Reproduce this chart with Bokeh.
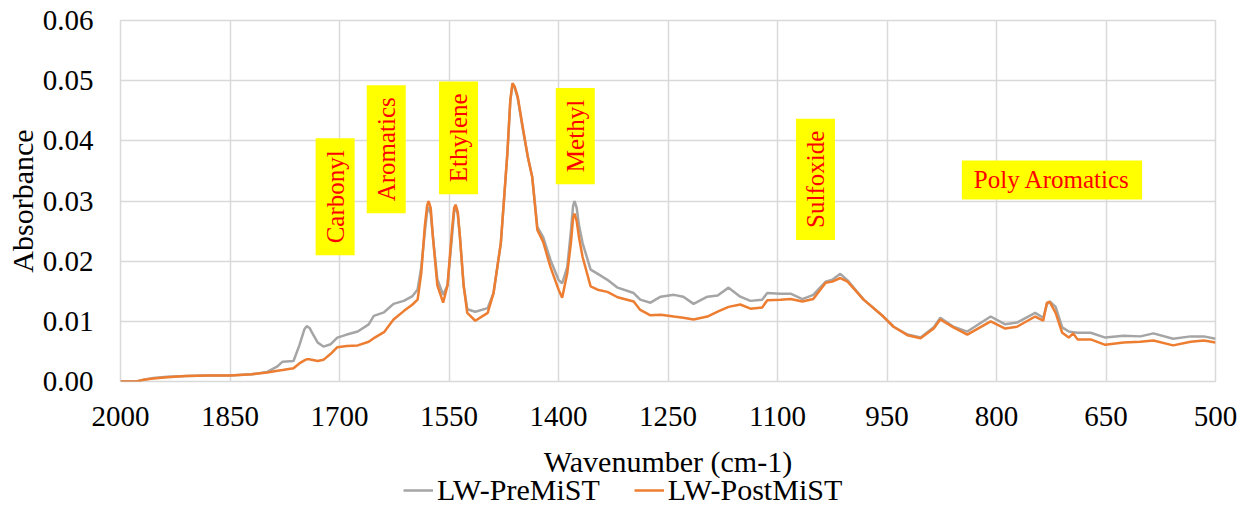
from bokeh.plotting import figure
from bokeh.layouts import column
from bokeh.models import (Range1d, FixedTicker, NumeralTickFormatter, Legend, LegendItem,
                          ColumnDataSource, Label)
from bokeh.embed import file_html
from bokeh.resources import INLINE

# ---- data ----
wavenumber = [2000, 1978, 1968, 1955, 1936, 1910, 1880, 1850, 1820, 1799, 1785, 1778, 1763, 1755,
              1748, 1745, 1741, 1738, 1730, 1722, 1712, 1703, 1690, 1675, 1660, 1653, 1639, 1626,
              1612, 1600, 1593, 1588, 1583, 1580, 1578, 1575, 1572, 1566, 1558, 1552, 1546, 1543,
              1541, 1538, 1535, 1530, 1525, 1514, 1497, 1489, 1479, 1470, 1466, 1463, 1460, 1456,
              1449, 1442, 1436, 1429, 1421, 1411, 1400, 1395, 1388, 1383, 1380, 1378, 1375, 1372,
              1367, 1356, 1345, 1333, 1319, 1297, 1288, 1274, 1260, 1242, 1229, 1215, 1196, 1182,
              1167, 1151, 1137, 1121, 1114, 1096, 1082, 1066, 1051, 1034, 1025, 1014, 1004, 982,
              955, 941, 922, 904, 886, 877, 859, 840, 808, 788, 772, 747, 736, 731, 727, 719, 710,
              701, 695, 689, 671, 651, 626, 603, 585, 558, 534, 516, 500]

pre_mist = [0.0, 0.0, 0.0003, 0.0006, 0.0008, 0.0009, 0.001, 0.001, 0.0012, 0.0016, 0.0025, 0.0033,
            0.0034, 0.006, 0.0087, 0.0092, 0.0089, 0.0082, 0.0065, 0.0058, 0.0062, 0.0073, 0.0078,
            0.0083, 0.0095, 0.0109, 0.0115, 0.0129, 0.0134, 0.0142, 0.0153, 0.019, 0.025, 0.0282,
            0.029, 0.0278, 0.024, 0.017, 0.0144, 0.016, 0.024, 0.0282, 0.029, 0.0278, 0.024, 0.016,
            0.012, 0.0116, 0.0122, 0.0147, 0.023, 0.038, 0.0466, 0.0494, 0.0488, 0.0472, 0.042,
            0.0373, 0.034, 0.0257, 0.024, 0.0202, 0.0169, 0.0163, 0.019, 0.025, 0.0292, 0.030,
            0.0288, 0.026, 0.023, 0.0186, 0.0178, 0.0169, 0.0156, 0.0147, 0.0136, 0.0131, 0.0141,
            0.0144, 0.0141, 0.0129, 0.0141, 0.0143, 0.0156, 0.0141, 0.0134, 0.0136, 0.0147,
            0.0146, 0.0146, 0.0137, 0.0144, 0.0166, 0.0169, 0.0179, 0.0168, 0.0136, 0.0108,
            0.0091, 0.0078, 0.0073, 0.009, 0.0106, 0.0091, 0.0083, 0.0108, 0.0095, 0.0098, 0.0114,
            0.0106, 0.0128, 0.0133, 0.0124, 0.009, 0.0083, 0.0082, 0.0081, 0.0081, 0.0073, 0.0076,
            0.0075, 0.008, 0.0071, 0.0075, 0.0075, 0.0071]

post_mist = [0.0, 0.0, 0.0003, 0.0005, 0.0007, 0.0009, 0.001, 0.001, 0.0012, 0.0015, 0.0018, 0.0019,
             0.0022, 0.003, 0.0035, 0.0037, 0.0037, 0.0036, 0.0034, 0.0036, 0.0046, 0.0057, 0.0059,
             0.006, 0.0066, 0.0072, 0.0082, 0.0103, 0.0117, 0.0128, 0.0136, 0.018, 0.026, 0.0292,
             0.030, 0.0288, 0.024, 0.016, 0.0131, 0.016, 0.025, 0.0288, 0.0294, 0.0282, 0.024,
             0.016, 0.0114, 0.0101, 0.0114, 0.0147, 0.023, 0.038, 0.0468, 0.0496, 0.049, 0.0474,
             0.0423, 0.0373, 0.034, 0.0252, 0.0232, 0.019, 0.0153, 0.0139, 0.018, 0.023, 0.0272,
             0.0279, 0.0266, 0.024, 0.0207, 0.0158, 0.0152, 0.0149, 0.014, 0.0133, 0.0119, 0.011,
             0.0111, 0.0108, 0.0106, 0.0103, 0.0108, 0.0116, 0.0124, 0.0128, 0.0121, 0.0123,
             0.0135, 0.0136, 0.0137, 0.0133, 0.0137, 0.0164, 0.0166, 0.0172, 0.0166, 0.0136,
             0.0108, 0.0091, 0.0077, 0.0072, 0.0088, 0.0103, 0.009, 0.0078, 0.0100, 0.0088, 0.0091,
             0.0108, 0.0101, 0.0131, 0.0132, 0.0114, 0.0081, 0.0073, 0.008, 0.007, 0.007, 0.0061,
             0.0065, 0.0066, 0.0068, 0.006, 0.0066, 0.0068, 0.0065]

x_ticks = [2000, 1850, 1700, 1550, 1400, 1250, 1100, 950, 800, 650, 500]
y_ticks = [0.0, 0.01, 0.02, 0.03, 0.04, 0.05, 0.06]

band_names = ["Carbonyl", "Aromatics", "Ethylene", "Methyl", "Sulfoxide", "Poly Aromatics"]
band_x = [1706, 1636, 1537, 1377, 1048, 724]
band_y = [0.0307, 0.0386, 0.0405, 0.0408, 0.0336, 0.0335]
band_vertical = [True, True, True, True, True, False]

series_names = ["LW-PreMiST", "LW-PostMiST"]
x_title = "Wavenumber (cm-1)"
y_title = "Absorbance"

FONT = "'Liberation Serif'"
GRAY = "#a5a5a5"
ORANGE = "#ed7d31"
GRID = "#d9d9d9"

MAIN_H = 480
p = figure(width=1251, height=MAIN_H, output_backend="svg", toolbar_location=None,
           x_range=Range1d(2000, 500), y_range=Range1d(0, 0.06),
           min_border_left=120, min_border_right=36, min_border_top=20,
           min_border_bottom=MAIN_H - 382)
p.background_fill_color = "white"
p.border_fill_color = "white"
p.outline_line_color = GRID
p.outline_line_width = 1.5

src = ColumnDataSource(dict(w=wavenumber, pre=pre_mist, post=post_mist))
r_pre = p.line("w", "pre", source=src, line_color=GRAY, line_width=2.5)
r_post = p.line("w", "post", source=src, line_color=ORANGE, line_width=2.5)

# axes
p.xaxis.ticker = FixedTicker(ticks=x_ticks)
p.yaxis.ticker = FixedTicker(ticks=y_ticks)
p.yaxis.formatter = NumeralTickFormatter(format="0.00")
for ax in (p.xaxis[0], p.yaxis[0]):
    ax.axis_line_color = None
    ax.major_tick_line_color = None
    ax.minor_tick_line_color = None
    ax.major_tick_out = 0
    ax.major_tick_in = 0
    ax.major_label_text_font = FONT
    ax.major_label_text_font_size = "29px"
    ax.major_label_text_color = "black"
    ax.axis_label_text_font = FONT
    ax.axis_label_text_font_size = "30px"
    ax.axis_label_text_font_style = "normal"
    ax.axis_label_text_color = "black"
p.xaxis.axis_label = x_title
p.yaxis.axis_label = y_title
p.xaxis.major_label_standoff = 25
p.xaxis.axis_label_standoff = 16
p.yaxis.major_label_standoff = 27
p.yaxis.axis_label_standoff = 1

p.xgrid.ticker = FixedTicker(ticks=x_ticks)
p.ygrid.ticker = FixedTicker(ticks=y_ticks)
for g in (p.xgrid[0], p.ygrid[0]):
    g.grid_line_color = GRID
    g.grid_line_width = 1.5

# band annotations
for name, bx, by, vert in zip(band_names, band_x, band_y, band_vertical):
    lab = Label(x=bx, y=by, text=name, angle=90 if vert else 0, angle_units="deg",
                text_align="center", text_baseline="middle",
                text_font=FONT, text_font_size="25px", text_color="#ff0000",
                background_fill_color="#ffff00", background_fill_alpha=1.0,
                padding=(12, 6))
    p.add_layout(lab)

# legend strip below the chart: the same series, in a strip whose x range
# (0..1) lies outside the data, so only the legend keys show
q = figure(width=1251, height=507 - MAIN_H, output_backend="svg", toolbar_location=None,
           x_axis_location=None, y_axis_location=None, min_border=0,
           x_range=Range1d(0, 1), y_range=Range1d(0, 1))
q.outline_line_color = None
q.xgrid.visible = False
q.ygrid.visible = False
q.background_fill_color = "white"
q.border_fill_color = "white"
k_pre = q.line("w", "pre", source=src, line_color=GRAY, line_width=2.5)
k_post = q.line("w", "post", source=src, line_color=ORANGE, line_width=2.5)
legend = Legend(items=[LegendItem(label=series_names[0], renderers=[k_pre]),
                       LegendItem(label=series_names[1], renderers=[k_post])],
                orientation="horizontal", location=(283, 0),
                label_text_font=FONT, label_text_font_size="30px", label_text_color="black",
                glyph_width=30, label_standoff=4, spacing=34, padding=0, margin=0,
                border_line_color=None, background_fill_alpha=0)
q.add_layout(legend, "center")

layout = column(p, q, spacing=0)
open("out.html", "w").write(file_html(layout, INLINE))
